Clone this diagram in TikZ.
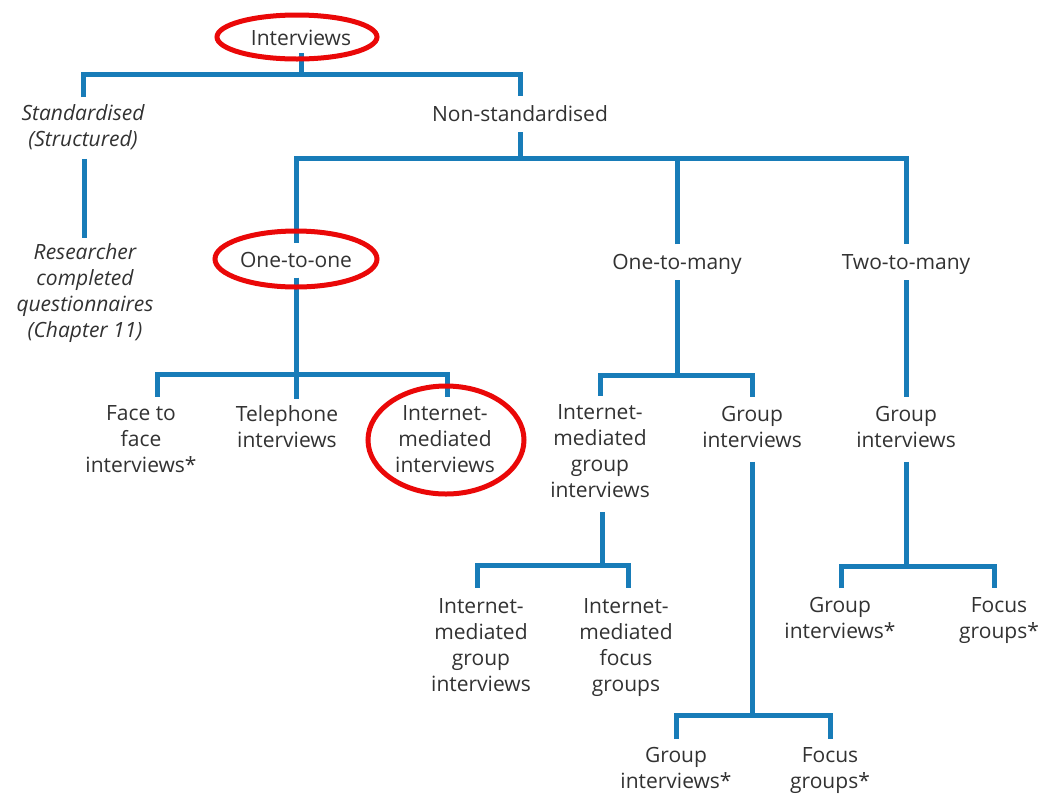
\documentclass[tikz,border=0pt]{standalone}
\usepackage{fontspec}
\setmainfont{Open Sans}
\definecolor{treeblue}{RGB}{24,124,184}
\definecolor{ringred}{RGB}{234,8,8}
\definecolor{inkgrey}{RGB}{50,50,50}
\newcommand\labelfont{\fontsize{21}{26}\selectfont}
% invisible rule fixing the height and depth of first and last lines
\newcommand\lblstrut{\rule[-5.6pt]{0pt}{26pt}}
\begin{document}
\begin{tikzpicture}[x=1pt,y=-1pt,
  lbl/.style={align=center, inner sep=0pt, outer xsep=0pt, outer ysep=7pt,
    text=inkgrey, font=\labelfont,
    execute at begin node=\lblstrut, execute at end node=\lblstrut},
  ital/.style={lbl, font=\labelfont\itshape},
  link/.style={draw=treeblue, line width=5pt, line join=miter},
  ring/.style={draw=ringred, line width=5pt}]
\fill[white] (0,0) rectangle (1038,796);
\useasboundingbox (0,0) rectangle (1038,796);

% levels of the horizontal bars
\coordinate (barA) at (0,74);
\coordinate (barB) at (0,158);
\coordinate (barC) at (0,374);
\coordinate (barD) at (0,375);
\coordinate (barE) at (0,565);
\coordinate (barF) at (0,566);
\coordinate (barG) at (0,715);

% labels
\node[lbl, outer ysep=2pt] (int) at (301,38) {Interviews};
\node[ital] (std) at (83,128) {Standardised\\(Structured)};
\node[ital, outer ysep=5pt] (rcq) at (85,293) {Researcher\\completed\\questionnaires\\(Chapter 11)};
\node[lbl, outer ysep=5pt] (nstd) at (520,114) {Non-standardised};
\node[lbl, outer ysep=4.5pt] (oto) at (296,260) {One-to-one};
\node[lbl, outer ysep=5pt] (otm) at (677,262) {One-to-many};
\node[lbl, outer ysep=5pt] (ttm) at (906,262) {Two-to-many};
\node[lbl, outer ysep=9pt] (f2f) at (141,442) {Face to\\face\\interviews*};
\node[lbl] (tel) at (287,429.5) {Telephone\\interviews};
\node[lbl, outer ysep=9pt] (imi) at (445,442) {Internet-\\mediated\\interviews};
\node[lbl, outer ysep=9pt] (imgi) at (600,454) {Internet-\\mediated\\group\\interviews};
\node[lbl, outer ysep=9pt] (grpA) at (752,429.5) {Group\\interviews};
\node[lbl, outer ysep=9pt] (grpB) at (906,429.5) {Group\\interviews};
\node[lbl, outer ysep=11pt] (imgiB) at (481,648) {Internet-\\mediated\\group\\interviews};
\node[lbl, outer ysep=11pt] (imfg) at (626,648) {Internet-\\mediated\\focus\\groups};
\node[lbl, outer ysep=9pt] (giC) at (840,620.5) {Group\\interviews*};
\node[lbl, outer ysep=9pt] (fgC) at (999,620.5) {Focus\\groups*};
\node[lbl, outer ysep=8pt] (giD) at (676,770.5) {Group\\interviews*};
\node[lbl, outer ysep=8pt] (fgD) at (830,770.5) {Focus\\groups*};

% Interviews
\draw[link] (int.south) -- (int.south |- barA);
\draw[link] (std.north) -- (std.north |- barA) -- (nstd.north |- barA) -- (nstd.north);
\draw[link] ([xshift=1pt]std.south) -- ([xshift=1pt]std.south |- rcq.north);

% Non-standardised
\draw[link] (nstd.south) -- (nstd.south |- barB);
\draw[link] (oto.north) -- (oto.north |- barB) -- (ttm.north |- barB) -- (ttm.north);
\draw[link] (otm.north) -- (otm.north |- barB);

% One-to-one
\draw[link] ([xshift=16pt]f2f.north) -- ([xshift=16pt]f2f.north |- barC)
  -- ([xshift=2pt]imi.north |- barC) -- ([xshift=2pt]imi.north);
\draw[link] (oto.south) -- (oto.south |- tel.north);

% One-to-many
\draw[link] (otm.south) -- (otm.south |- barD);
\draw[link] (imgi.north) -- (imgi.north |- barD) -- (grpA.north |- barD) -- (grpA.north);
\draw[link] ([xshift=2pt]imgi.south) -- ([xshift=2pt]imgi.south |- barE);
\draw[link] ([xshift=-4pt]imgiB.north) -- ([xshift=-4pt]imgiB.north |- barE)
  -- ([xshift=2pt]imfg.north |- barE) -- ([xshift=2pt]imfg.north);
\draw[link] (grpA.south) -- (grpA.south |- barG);
\draw[link] (giD.north) -- (giD.north |- barG) -- (fgD.north |- barG) -- (fgD.north);

% Two-to-many
\draw[link] (ttm.south) -- (grpB.north);
\draw[link] (grpB.south) -- (grpB.south |- barF);
\draw[link] ([xshift=1pt]giC.north) -- ([xshift=1pt]giC.north |- barF)
  -- ([xshift=-5pt]fgC.north |- barF) -- ([xshift=-5pt]fgC.north);

% highlight rings
\draw[ring] (297,37) ellipse [x radius=80pt, y radius=22pt];
\draw[ring] (296,259) ellipse [x radius=81pt, y radius=28pt];
\draw[ring] (446,440) ellipse [x radius=78pt, y radius=54pt];
\end{tikzpicture}
\end{document}
